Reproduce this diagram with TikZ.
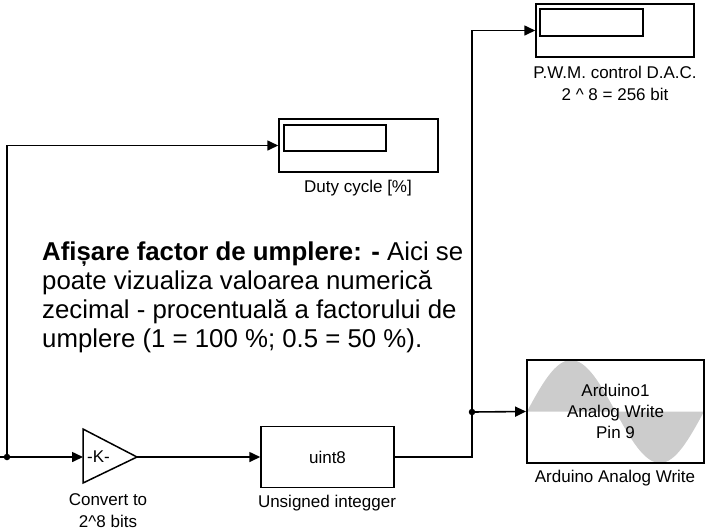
\documentclass[tikz,border=0pt]{standalone}
\usepackage{fontspec}
\setmainfont{Liberation Sans}
\usetikzlibrary{arrows.meta}
\begin{document}
\begin{tikzpicture}[x=1pt,y=-1pt,
  wire/.style={line width=1.6pt},
  arr/.style={wire,-{Triangle[length=11pt,width=10pt]}},
  blk/.style={draw,line width=1.5pt,inner sep=0pt},
  inner/.style={draw,line width=1.7pt,inner sep=0pt},
  lbl/.style={font=\fontsize{17}{22}\selectfont,align=center,inner sep=0pt},
  dot/.style={circle,fill,inner sep=0pt,minimum size=6.5pt}]
\useasboundingbox (0,0) rectangle (708,531);
% scopes
\node[blk,minimum width=158pt,minimum height=53pt] (pwm) at (615,30.5) {};
\node[inner,minimum width=103pt,minimum height=27pt] (pwmin) at (591.5,22.5) {};
\node[lbl] (lpwm) at (615,83) {P.W.M. control D.A.C.\\2 \textasciicircum{} 8 = 256 bit};
\node[blk,minimum width=159pt,minimum height=53pt] (duty) at (358.5,145.5) {};
\node[inner,minimum width=102pt,minimum height=26pt] (dutyin) at (335,138) {};
\node[lbl] (lduty) at (358,188) {Duty cycle [\%]};
% Arduino block
\begin{scope}
\clip (527,360) rectangle (704,463);
\fill[gray!40] (527,411.5) sin (571,360) cos (615.5,411.5) sin (660,463) cos (704,411.5) -- cycle;
\end{scope}
\node[draw,line width=1.9pt,inner sep=0pt,minimum width=177pt,minimum height=103pt,
  font=\fontsize{17}{21}\selectfont,align=center] (ard) at (615.5,411.5) {Arduino1\\Analog Write\\Pin 9};
\node[lbl] (lard) at (615,478) {Arduino Analog Write};
% uint8
\node[blk,minimum width=133pt,minimum height=61pt,font=\fontsize{17}{21}\selectfont] (u8) at (327.5,457) {uint8};
\node[lbl] (lu8) at (327,503) {Unsigned integger};
% gain
\coordinate (gin) at (83,457);
\coordinate (gout) at (137,457);
\draw[blk,line join=miter] (83,429) -- (gout) -- (83,483) -- cycle;
\node[font=\fontsize{17}{21}\selectfont,inner sep=0pt] (k) at (98.5,457) {-K-};
\node[lbl] (lk) at (108,510.5) {Convert to\\2\textasciicircum{}8 bits};
% junctions
\node[dot] (j1) at (7,457) {};
\node[dot] (j2) at (472,412) {};
\coordinate (src) at (0,457);
% wires
\draw[wire] (src) -- (j1);
\draw[arr] (j1) -- (gin);
\draw[arr] (j1.center) |- (duty.west);
\draw[arr] (gout) -- (u8.west);
\draw[wire] (u8.east) -| (j2.center);
\draw[arr] (j2.center) -- (ard.west);
\draw[arr] (j2.center) |- (pwm.west);
% note
\node[anchor=base west,align=left,inner sep=0pt,font=\fontsize{25.8}{28.7}\selectfont] (note) at (42,347)
 {\textbf{Afișare factor de umplere: -} Aici se\\poate vizualiza valoarea numerică\\zecimal - procentuală a factorului de\\umplere (1 = 100 \%; 0.5 = 50 \%).};
\end{tikzpicture}
\end{document}
